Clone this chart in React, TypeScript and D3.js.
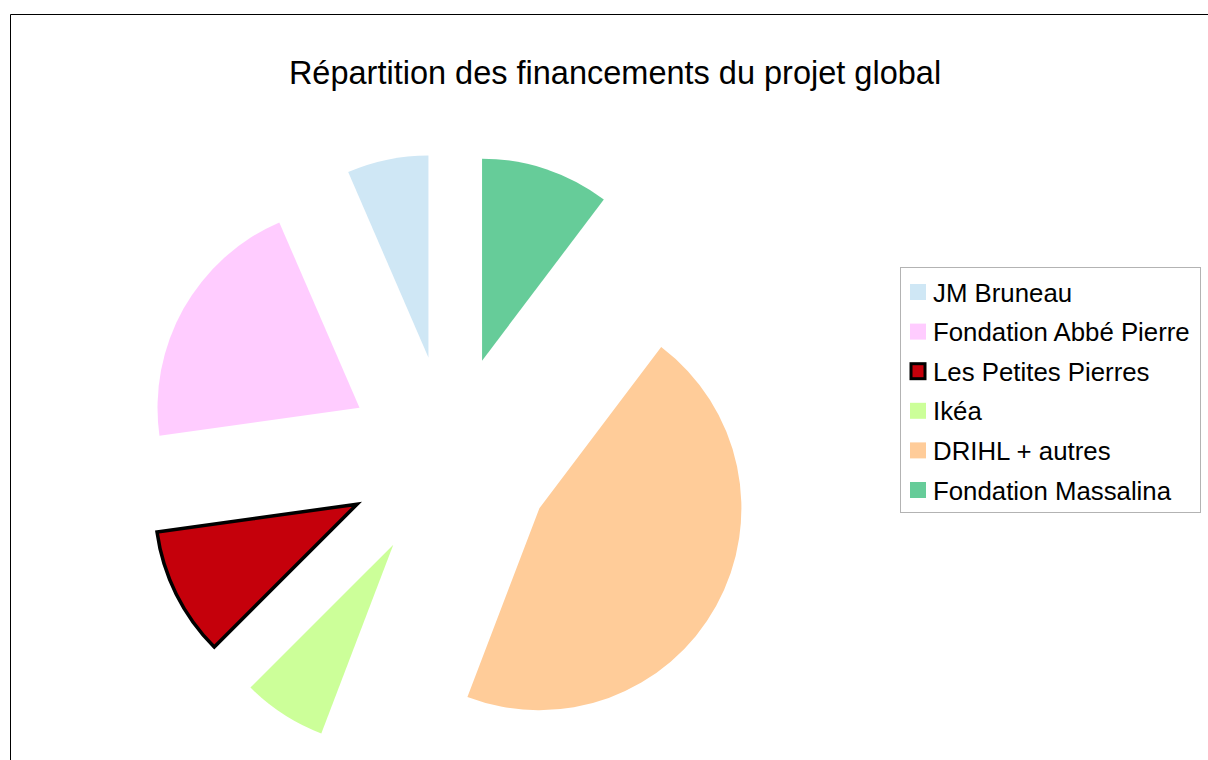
import React from "react";
import * as d3 from "d3";

const title = "Répartition des financements du projet global";
const categories = [
  "JM Bruneau",
  "Fondation Abbé Pierre",
  "Les Petites Pierres",
  "Ikéa",
  "DRIHL + autres",
  "Fondation Massalina",
];
const values = [6.5, 20.7, 10.3, 6.7, 45.5, 10.3];
const colors = ["#cfe7f5", "#ffccff", "#c5000b", "#ccff99", "#ffcc99", "#66cc99"];
const outlined = [false, false, true, false, false, false];

export default function App() {
  const W = 1208;
  const H = 760;
  const cx = 449.3;
  const cy = 458.3;
  const R = 202;
  const explode = 103;

  const pie = d3
    .pie<number>()
    .sort(null)
    .value((d) => d)
    .startAngle(0)
    .endAngle(-2 * Math.PI);
  const arcs = pie(values);
  const arc = d3.arc<d3.PieArcDatum<number>>().innerRadius(0).outerRadius(R);

  const font = "'Liberation Sans', Arial, sans-serif";
  const legendX = 900.5;
  const legendY = 267.5;
  const rowH = 39.6;
  const row0 = 292;

  return (
    <svg
      width={W}
      height={H}
      style={{ position: "absolute", left: 0, top: 0, background: "#fff" }}
    >
      <line x1={10.5} y1={14.5} x2={W} y2={14.5} stroke="#000" strokeWidth={1} />
      <line x1={10.5} y1={14.5} x2={10.5} y2={H} stroke="#000" strokeWidth={1} />
      <text
        x={615}
        y={84}
        textAnchor="middle"
        fontFamily={font}
        fontSize={32.5}
        fill="#000"
      >
        {title}
      </text>
      <g>
        {arcs.map((a, i) => {
          const mid = (a.startAngle + a.endAngle) / 2;
          const dx = Math.sin(mid) * explode;
          const dy = -Math.cos(mid) * explode;
          return (
            <path
              key={categories[i]}
              d={arc(a) || ""}
              transform={`translate(${cx + dx},${cy + dy})`}
              fill={colors[i]}
              stroke={outlined[i] ? "#000" : "none"}
              strokeWidth={outlined[i] ? 3.5 : 0}
              strokeLinejoin="miter"
            />
          );
        })}
      </g>
      <rect
        x={legendX}
        y={legendY}
        width={300}
        height={245}
        fill="#fff"
        stroke="#b3b3b3"
        strokeWidth={1}
      />
      {categories.map((c, i) => {
        const yc = row0 + i * rowH;
        return (
          <g key={c}>
            <rect
              x={outlined[i] ? 911 : 910}
              y={outlined[i] ? yc - 7.5 : yc - 8}
              width={outlined[i] ? 14 : 16}
              height={outlined[i] ? 15 : 16}
              fill={colors[i]}
              stroke={outlined[i] ? "#000" : "none"}
              strokeWidth={outlined[i] ? 3 : 0}
            />
            <text
              x={933}
              y={yc + 9.5}
              fontFamily={font}
              fontSize={25.8}
              fill="#000"
            >
              {c}
            </text>
          </g>
        );
      })}
    </svg>
  );
}
